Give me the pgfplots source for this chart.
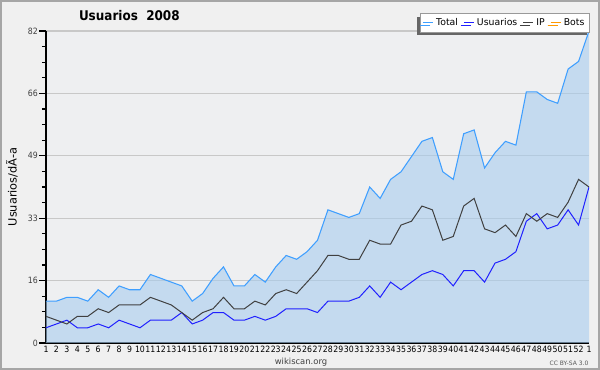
\documentclass[border=0pt]{standalone}
\usepackage{fontspec}
\setmainfont{DejaVu Sans}
\newfontfamily\condfont{DejaVu Sans Condensed}
\usepackage{pgfplots}
\usepackage{pgfplotstable}
\pgfplotsset{compat=1.18}
\usetikzlibrary{shadows}
\definecolor{outerbg}{HTML}{F0F0F0}
\definecolor{plotbg}{HTML}{EEEFF1}
\definecolor{areafill}{HTML}{A8CCEE}
\definecolor{totalc}{HTML}{3F9FFF}
\definecolor{usrc}{HTML}{2020FF}
\definecolor{ipc}{HTML}{404040}
\definecolor{botc}{HTML}{FF9900}
\definecolor{gridc}{HTML}{C8C8C8}

\pgfplotstableread{
x total usr ip
1 11 4 7
2 11 5 6
3 12 6 5
4 12 4 7
5 11 4 7
6 14 5 9
7 12 4 8
8 15 6 10
9 14 5 10
10 14 4 10
11 18 6 12
12 17 6 11
13 16 6 10
14 15 8 8
15 11 5 6
16 13 6 8
17 17 8 9
18 20 8 12
19 15 6 9
20 15 6 9
21 18 7 11
22 16 6 10
23 20 7 13
24 23 9 14
25 22 9 13
26 24 9 16
27 27 8 19
28 35 11 23
29 34 11 23
30 33 11 22
31 34 12 22
32 41 15 27
33 38 12 26
34 43 16 26
35 45 14 31
36 49 16 32
37 53 18 36
38 54 19 35
39 45 18 27
40 43 15 28
41 55 19 36
42 56 19 38
43 46 16 30
44 50 21 29
45 53 22 31
46 52 24 28
47 66 32 34
48 66 34 32
49 64 30 34
50 63 31 33
51 72 35 37
52 74 31 43
53 82 41 41
}\datatable

\begin{document}
\begin{tikzpicture}
\fill[outerbg] (0,0) rectangle (450pt,277.5pt);
\draw[black!35, line width=1.2pt] (0.6pt,0.6pt) rectangle (449.4pt,276.9pt);
\begin{axis}[
  at={(34.5pt,20.25pt)}, anchor=south west,
  scale only axis, width=407.25pt, height=234pt,
  xmin=1, xmax=53, ymin=0, ymax=82,
  axis lines*=left,
  axis line style={black, line width=0.8pt},
  axis background/.style={fill=plotbg},
  ytick={0,16.4,32.8,49.2,65.6,82},
  yticklabels={0,16,33,49,66,82},
  minor y tick num=3,
  ymajorgrids,
  major grid style={gridc, line width=0.8pt},
  tick align=outside,
  major tick length=5pt, minor tick length=3pt,
  tick style={black, line width=0.8pt},
  xtick={1,...,53},
  xticklabels={1,2,3,4,5,6,7,8,9,10,11,12,13,14,15,16,17,18,19,20,21,22,23,24,25,26,27,28,29,30,31,32,33,34,35,36,37,38,39,40,41,42,43,44,45,46,47,48,49,50,51,52,1},
  x tick style={draw=none},
  y tick label style={font=\condfont\fontsize{6.5}{7}\selectfont, color=black!75, inner sep=1pt},
  x tick label style={font=\condfont\fontsize{6.5}{7}\selectfont, color=black, inner sep=0.5pt, yshift=3.5pt},
  ylabel={Usuarios/dÃ-a},
  every axis y label/.style={at={(axis description cs:-0.0626,0.5)}, rotate=90, anchor=center, font=\fontsize{8.5}{10}\selectfont},
  legend columns=4,
  legend cell align=left,
  legend image code/.code={\draw[#1] (0pt,0pt) -- (7.5pt,0pt);},
  legend style={at={(axis description cs:1,1)}, anchor=south east, xshift=0.75pt, yshift=-1pt,
    font=\fontsize{7}{8}\selectfont, draw=black!40, fill=white, inner xsep=2pt, inner ysep=1.5pt,
    drop shadow={shadow xshift=-2.2pt, shadow yshift=-2.2pt, fill=black!60, opacity=1},
    /tikz/every even column/.append style={column sep=2pt}},
]
\addplot[draw=none, fill=areafill, fill opacity=0.6, forget plot] table[x=x, y=total] {\datatable} \closedcycle;
\addplot[totalc, line width=0.8pt] table[x=x, y=total] {\datatable};
\addlegendentry{Total}
\addplot[usrc, line width=0.75pt] table[x=x, y=usr] {\datatable};
\addlegendentry{Usuarios}
\addplot[ipc, line width=0.75pt] table[x=x, y=ip] {\datatable};
\addlegendentry{IP}
\addlegendimage{botc, line width=0.8pt}
\addlegendentry{Bots}
\end{axis}
\node[font=\condfont\bfseries\fontsize{10}{12}\selectfont] at (97pt,265.5pt) {Usuarios\ \ 2008};
\node[font=\fontsize{6.3}{7}\selectfont, color=black!75] at (225.75pt,6pt) {wikiscan.org};
\node[font=\fontsize{4.5}{5}\selectfont, color=black!65] at (426.75pt,5.25pt) {CC BY-SA 3.0};
\pgfresetboundingbox
\useasboundingbox (0,0) rectangle (450pt,277.5pt);
\end{tikzpicture}
\end{document}
